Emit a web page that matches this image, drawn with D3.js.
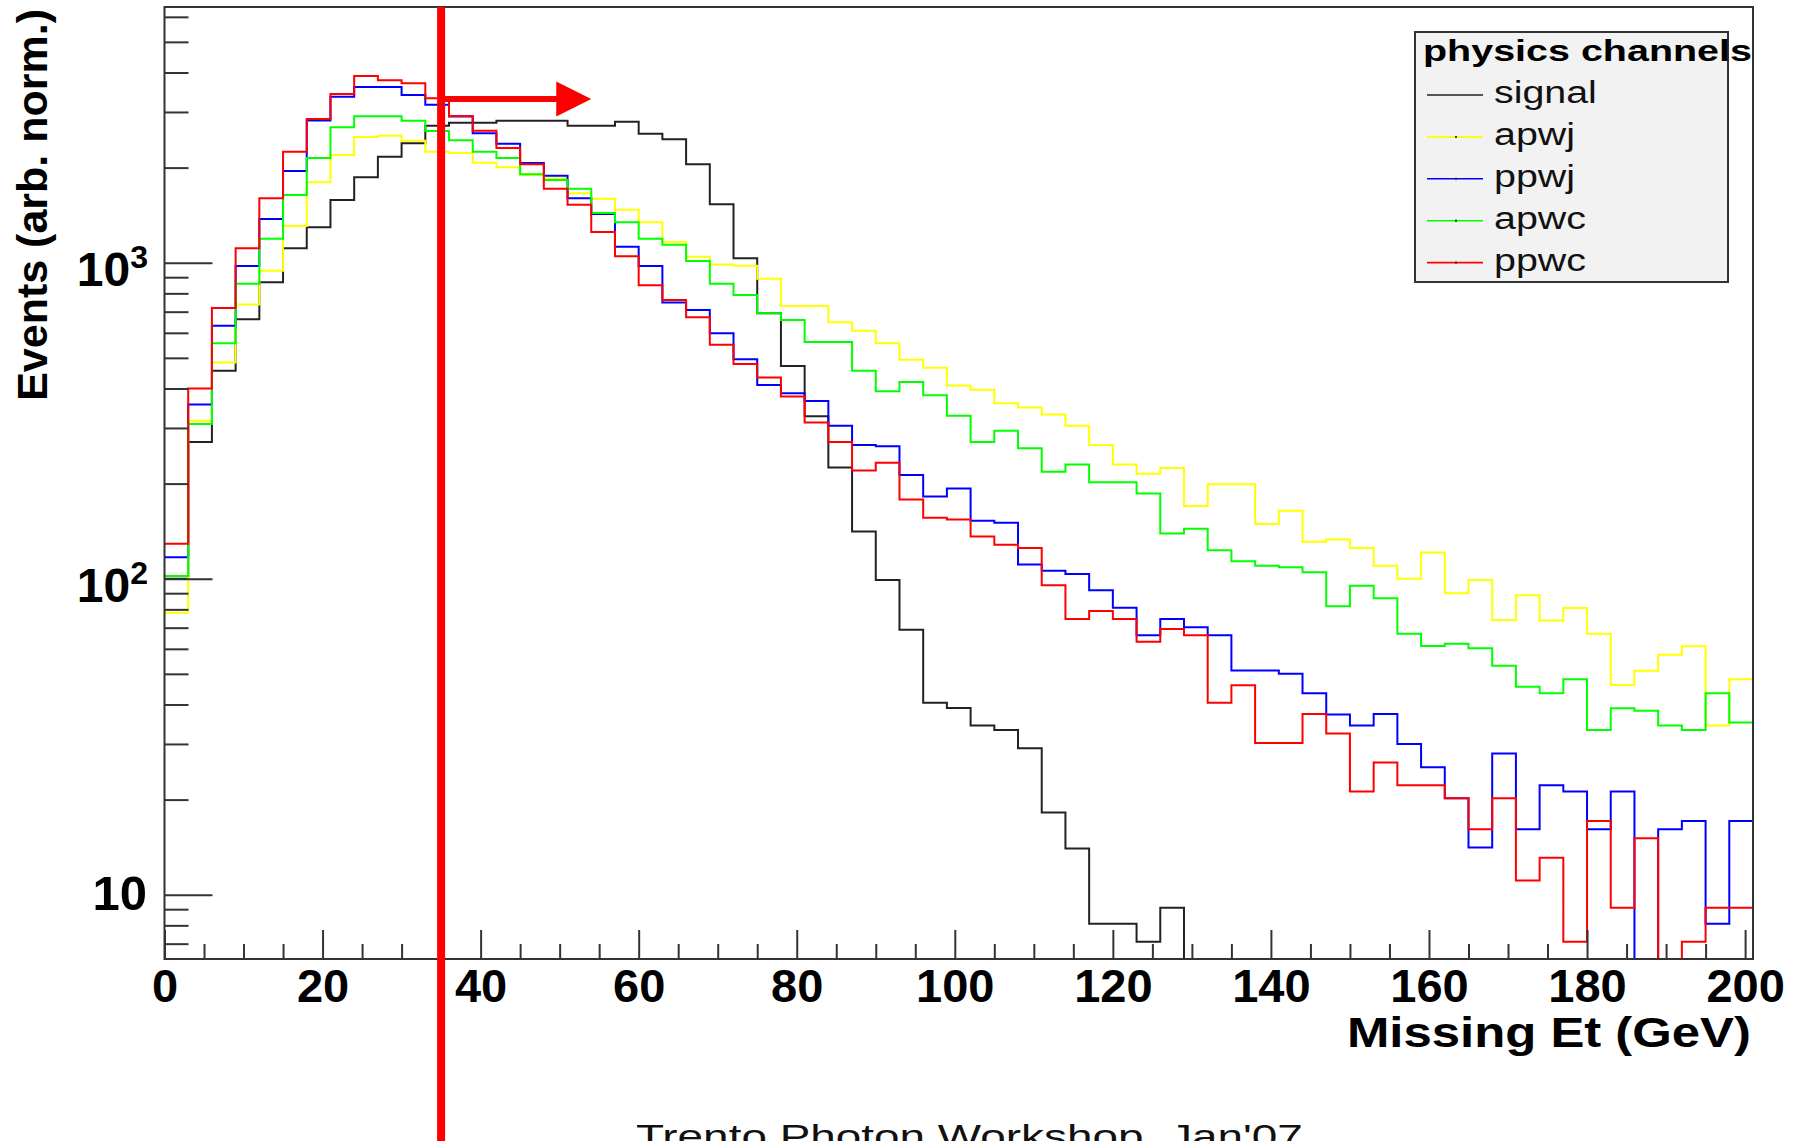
<!DOCTYPE html>
<html>
<head>
<meta charset="utf-8">
<script src="https://cdn.jsdelivr.net/npm/d3@7/dist/d3.min.js"></script>
<style>
	body { margin: 0; background: #fff; }
	svg { display: block; }
	text { font-family: "Liberation Sans", Arial, sans-serif; }
</style>
</head>
<body>
<svg id="chart" width="1800" height="1141"></svg>
<script>

// histogram binning: 67 bins of 3 GeV starting at 0
const binWidth = 3;

// bin contents (arb. norm.), 0 = empty bin
const signal = [ 100, 271, 455, 662, 867, 1111, 1294, 1579, 1864, 2165,
	2387, 2713, 2773, 2773, 2814, 2814, 2814, 2713, 2713, 2794,
	2560, 2458, 2048, 1530, 1033, 692, 471, 327, 225, 141,
	99, 69, 40.5, 39, 34.3, 33.2, 29.1, 18.2, 14, 8.1,
	8.1, 7.1, 9.1, 0, 0, 0, 0, 0, 0, 0,
	0, 0, 0, 0, 0, 0, 0, 0, 0, 0,
	0, 0, 0, 0, 0, 0, 0 ];

const apwj = [ 78, 316, 483, 738, 943, 1307, 1797, 2192, 2499, 2523,
	2433, 2245, 2225, 2073, 2004, 1894, 1849, 1658, 1594, 1471,
	1342, 1163, 1045, 988, 978, 890, 730, 730, 648, 609,
	556, 493, 465, 409, 396, 359, 348, 331, 305, 265,
	230, 215, 224, 170, 199, 199, 149, 164, 131, 133,
	125, 110, 100, 121, 90, 99, 74, 88.6, 73.8, 80.8,
	67, 46.1, 51.1, 57.5, 61.1, 34.3, 48.1 ];

const ppwj = [ 117, 356, 632, 976, 1375, 1951, 2820, 3353, 3597, 3597,
	3394, 3162, 2900, 2568, 2380, 2067, 1885, 1599, 1426, 1124,
	976, 749, 708, 598, 495, 410, 386, 365, 305, 265,
	262.5, 213, 182, 193, 152.6, 150.4, 111, 106, 103.5, 92,
	81, 66.2, 74.6, 70.2, 66.2, 51.2, 51.2, 50, 43.4, 37.2,
	34.3, 37.3, 30, 25.3, 20.2, 14.1, 28, 16.1, 22.2, 21.2,
	16.1, 21.2, 0, 16.1, 17.1, 8.1, 17.1 ];

const apwc = [ 102, 309, 556, 858, 1191, 1637, 2145, 2683, 2906, 2906,
	2814, 2611, 2440, 2245, 2145, 1905, 1826, 1715, 1436, 1342,
	1191, 1140, 1012, 858, 790, 692, 659, 561, 561, 455,
	392, 419, 381, 328, 271, 294, 259, 218, 230, 202,
	202, 186, 139, 144, 123, 113.5, 110, 108.7, 104.8, 81.8,
	95, 86.7, 67, 61.2, 62.3, 60.2, 53, 45.5, 43.4, 48.1,
	33.2, 38.9, 38.2, 34.3, 33.2, 43.4, 35.1 ];

const ppwc = [ 129, 400, 719, 1111, 1599, 2245, 2849, 3419, 3898, 3778,
	3696, 3313, 2912, 2616, 2307, 2048, 1715, 1526, 1250, 1048,
	848, 762, 672, 550, 478, 433, 377, 312, 271, 220,
	233, 178, 156, 154, 136, 128, 125, 95.4, 74.6, 79,
	74.6, 63.2, 69.3, 66.3, 40.5, 46, 30.2, 30.2, 37.3, 32.4,
	21.2, 26.2, 22.2, 22.2, 20.2, 16.1, 20.2, 11.1, 13.1, 7.1,
	17.1, 9.1, 15.1, 0, 7.1, 9.1, 9.1 ];

const channelNames = [ "signal", "apwj", "ppwj", "apwc", "ppwc" ];
const channelData = [ signal, apwj, ppwj, apwc, ppwc ];
const channelColors = [ "#222222", "#ffff00", "#0000ff", "#00ff00", "#ff0000" ];

const xMajorTicks = [ 0, 20, 40, 60, 80, 100, 120, 140, 160, 180, 200 ];
const yMajorTicks = [ 10, 100, 1000 ];
const yMinorTicks = [ 7, 8, 9, 20, 30, 40, 50, 60, 70, 80, 90,
	200, 300, 400, 500, 600, 700, 800, 900, 2000, 3000, 4000, 5000, 6000 ];

// selection cut and arrow
const cutValue = 35;
const arrowEnd = 54;
const arrowLevel = 3300;

const xDomain = [ 0, 201 ];
const yDomain = [ 6.26, 6446 ];

let svg = d3.select( "#chart" );

let frame = { left: 164.5, right: 1753, top: 7, bottom: 959 };

let x = d3.scaleLinear()
	.domain( xDomain )
	.range( [ frame.left, frame.right ] );

let y = d3.scaleLog()
	.domain( yDomain )
	.range( [ frame.bottom, frame.top ] )
	.clamp( true );

// stretch a text horizontally (the original picture is a bit wide)
function stretch( text, k ) {
	let x0 = +text.attr( "x" ), y0 = +text.attr( "y" );
	text.attr( "x", 0 ).attr( "y", 0 )
		.attr( "transform", "translate(" + x0 + "," + y0 + ") scale(" + k + ",1)" );
	return text;
}

// stretch a text so that it spans the given width
function fitWidth( text, w ) {
	let len = text.node().getComputedTextLength();
	return stretch( text, w / len );
}

// histograms, step lines through bin edges
let line = d3.line()
	.x( d => x( d.edge ) )
	.y( d => y( d.value > 0 ? d.value : yDomain[ 0 ] ) )
	.curve( d3.curveStepAfter );

channelData.forEach( ( values, k ) => {

	let pts = values.map( ( v, i ) => ({ edge: i * binWidth, value: v }) );
	// close the last bin at the upper edge
	pts.push({ edge: values.length * binWidth, value: values[ values.length - 1 ] });

	svg.append( "path" )
		.datum( pts )
		.attr( "fill", "none" )
		.attr( "stroke", channelColors[ k ] )
		.attr( "stroke-width", 2 )
		.attr( "d", line );
});

// x axis ticks pointing up, labels below
let xMinor = d3.range( 0, 201, 5 ).filter( v => v % 20 !== 0 );

svg.append( "g" )
	.attr( "transform", "translate(0," + frame.bottom + ")" )
	.call( d3.axisBottom( x ).tickValues( xMinor ).tickSizeInner( -15 ).tickSizeOuter( 0 ).tickFormat( "" ) )
	.call( g => g.select( ".domain" ).remove() )
	.call( g => g.selectAll( "line" ).attr( "stroke", "#333" ).attr( "stroke-width", 2 ) );

svg.append( "g" )
	.attr( "transform", "translate(0," + frame.bottom + ")" )
	.call( d3.axisBottom( x ).tickValues( xMajorTicks ).tickSizeInner( -29 ).tickSizeOuter( 0 ).tickPadding( 10 ) )
	.call( g => g.select( ".domain" ).remove() )
	.call( g => g.selectAll( "line" ).attr( "stroke", "#333" ).attr( "stroke-width", 2 ) )
	.call( g => g.selectAll( "text" )
		.attr( "fill", "#000" )
		.attr( "font-family", "'Liberation Sans', Arial, sans-serif" )
		.attr( "font-weight", "bold" )
		.attr( "font-size", 47 ) );

// y axis ticks pointing right
svg.append( "g" )
	.attr( "transform", "translate(" + frame.left + ",0)" )
	.call( d3.axisRight( y ).tickValues( yMinorTicks ).tickSizeInner( 24 ).tickSizeOuter( 0 ).tickFormat( "" ) )
	.call( g => g.select( ".domain" ).remove() )
	.call( g => g.selectAll( "line" ).attr( "stroke", "#333" ).attr( "stroke-width", 2 ) );

svg.append( "g" )
	.attr( "transform", "translate(" + frame.left + ",0)" )
	.call( d3.axisRight( y ).tickValues( yMajorTicks ).tickSizeInner( 48 ).tickSizeOuter( 0 ).tickFormat( "" ) )
	.call( g => g.select( ".domain" ).remove() )
	.call( g => g.selectAll( "line" ).attr( "stroke", "#333" ).attr( "stroke-width", 2 ) );

// y labels 10, 10^2, 10^3
yMajorTicks.forEach( v => {

	let e = Math.round( Math.log10( v ) );
	let t = svg.append( "text" )
		.attr( "text-anchor", "end" )
		.attr( "font-weight", "bold" )
		.attr( "fill", "#000" );

	if ( e === 1 ) {
		t.attr( "x", 147 ).attr( "y", y( v ) + 15 )
			.attr( "font-size", 49 )
			.text( "10" );
	}
	else {
		t.attr( "x", 148 ).attr( "y", y( v ) + 23 )
			.attr( "font-size", 48 );
		t.append( "tspan" ).text( "10" );
		t.append( "tspan" )
			.attr( "font-size", 32 )
			.attr( "dy", -18 )
			.text( e );
	}
});

// frame
svg.append( "rect" )
	.attr( "x", frame.left )
	.attr( "y", frame.top )
	.attr( "width", frame.right - frame.left )
	.attr( "height", frame.bottom - frame.top )
	.attr( "fill", "none" )
	.attr( "stroke", "#333" )
	.attr( "stroke-width", 2 );

// axis titles
fitWidth( svg.append( "text" )
	.attr( "x", 1347 )
	.attr( "y", 1047 )
	.attr( "font-weight", "bold" )
	.attr( "font-size", 42 )
	.text( "Missing Et (GeV)" ), 404 );

svg.append( "text" )
	.attr( "transform", "translate(47,9) rotate(-90)" )
	.attr( "text-anchor", "end" )
	.attr( "font-weight", "bold" )
	.attr( "font-size", 43 )
	.text( "Events (arb. norm.)" );

// legend
let legend = svg.append( "g" );

legend.append( "rect" )
	.attr( "x", 1415 )
	.attr( "y", 32 )
	.attr( "width", 313 )
	.attr( "height", 250 )
	.attr( "fill", "#f2f2f2" )
	.attr( "stroke", "#333" )
	.attr( "stroke-width", 2 );

fitWidth( legend.append( "text" )
	.attr( "x", 1423 )
	.attr( "y", 61 )
	.attr( "font-weight", "bold" )
	.attr( "font-size", 30 )
	.text( "physics channels" ), 329 );

channelNames.forEach( ( name, k ) => {

	let ly = 95 + k * 41.9;

	legend.append( "line" )
		.attr( "x1", 1427 )
		.attr( "x2", 1483 )
		.attr( "y1", ly )
		.attr( "y2", ly )
		.attr( "stroke", channelColors[ k ] )
		.attr( "stroke-width", 1.6 );

	if ( k > 0 )
		legend.append( "rect" )
			.attr( "x", 1455 )
			.attr( "y", ly - 1 )
			.attr( "width", 2 )
			.attr( "height", 2 )
			.attr( "fill", "#333" );

	stretch( legend.append( "text" )
		.attr( "x", 1494 )
		.attr( "y", ly + 8 )
		.attr( "font-size", 31 )
		.attr( "fill", "#111" )
		.text( name ), 1.27 );
});

// cut line and arrow
svg.append( "line" )
	.attr( "x1", x( cutValue ) )
	.attr( "x2", x( cutValue ) )
	.attr( "y1", frame.top )
	.attr( "y2", 1141 )
	.attr( "stroke", "#ff0000" )
	.attr( "stroke-width", 8 );

let ay = y( arrowLevel );
let tip = x( arrowEnd );

svg.append( "line" )
	.attr( "x1", x( cutValue ) )
	.attr( "x2", tip - 30 )
	.attr( "y1", ay )
	.attr( "y2", ay )
	.attr( "stroke", "#ff0000" )
	.attr( "stroke-width", 6 );

svg.append( "path" )
	.attr( "d", "M" + tip + "," + ay + "L" + ( tip - 35 ) + "," + ( ay - 17.5 ) + "L" + ( tip - 35 ) + "," + ( ay + 17.5 ) + "Z" )
	.attr( "fill", "#ff0000" );

// footer, cut by the bottom edge as in the original
fitWidth( svg.append( "text" )
	.attr( "x", 636 )
	.attr( "y", 1148 )
	.attr( "font-family", "'Liberation Mono', 'DejaVu Sans Mono', monospace" )
	.attr( "font-size", 34 )
	.attr( "fill", "#111" )
	.text( "Trento Photon Workshop, Jan'07" ), 667 );

</script>
</body>
</html>
